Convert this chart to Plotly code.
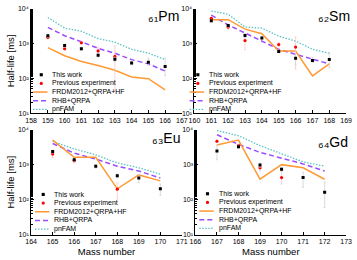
import plotly.graph_objects as go

# ---------------- data ----------------
# Pm (Z=61)
pm_mass = [159, 160, 161, 162, 163, 164, 165, 166]
pm_this = [1670, 870, 710, 460, 355, 275, 290, 220]
pm_this_lo = [1500, 780, 640, 410, 310, 245, 230, 120]
pm_this_hi = [1850, 960, 780, 510, 400, 305, 380, 380]
pm_prev_mass = [159, 160, 161, 162, 163]
pm_prev = [1500, 710, 1050, 610, 425]
pm_prev_lo = [1350, 640, 950, 500, 45]
pm_prev_hi = [1650, 780, 1150, 790, 850]
pm_frdm = [760, 445, 303, 233, 170, 110, 98, 47]
pm_rhb = [2880, 1670, 1120, 725, 525, 345, 260, 162]
pm_pnfam = [5570, 2760, 2240, 1380, 1090, 680, 530, 345]

# Sm (Z=62)
sm_mass = [161, 162, 163, 164, 165, 166, 167, 168]
sm_this = [4490, 3250, 1700, 1440, 590, 380, 325, 345]
sm_this_lo = [4100, 2950, 1500, 1300, 540, 245, 280, 205]
sm_this_hi = [4900, 3550, 1900, 1580, 640, 520, 400, 540]
sm_prev_mass = [161, 162, 163, 165, 166]
sm_prev = [5250, 2950, 1210, 935, 790]
sm_prev_lo = [4800, 2600, 660, 820, 185]
sm_prev_hi = [5700, 3300, 1700, 1050, 1540]
sm_frdm = [4800, 4800, 2580, 1900, 610, 610, 118, 260]
sm_rhb = [6470, 3390, 2000, 1170, 680, 490, 355, 260]
sm_pnfam = [8500, 6900, 2950, 2760, 1620, 1170, 680, 525]

# Eu (Z=63)
eu_mass = [165, 166, 167, 168, 169, 170]
eu_this = [2360, 1380, 905, 480, 415, 205]
eu_this_lo = [2150, 1250, 800, 420, 310, 133]
eu_this_hi = [2600, 1500, 1000, 540, 530, 280]
eu_prev_mass = [165, 166, 168]
eu_prev = [2000, 1300, 200]
eu_prev_lo = [1600, 1150, 105]
eu_prev_hi = [2400, 1450, 300]
eu_frdm = [4990, 1620, 1620, 205, 510, 345]
eu_rhb = [4000, 2130, 1440, 905, 660, 415]
eu_pnfam = [4640, 2800, 1910, 1120, 815, 535]

# Gd (Z=64)
gd_mass = [167, 168, 169, 170, 171, 172]
gd_this = [2450, 3240, 970, 735, 430, 165]
gd_this_lo = [1380, 2900, 850, 640, 228, 60]
gd_this_hi = [3620, 3600, 1100, 830, 590, 320]
gd_prev_mass = [167, 168, 169, 170]
gd_prev = [4640, 3470, 815, 430]
gd_prev_lo = [4200, 3100, 660, 280]
gd_prev_hi = [5100, 3850, 900, 660]
gd_frdm = [3620, 4990, 385, 1000, 815, 385]
gd_rhb = [7100, 3780, 2230, 1540, 1050, 660]
gd_pnfam = [9400, 6650, 3470, 1990, 1200, 905]

elements = ["Pm", "Sm", "Eu", "Gd"]
z_numbers = ["₆₁", "₆₂", "₆₃", "₆₄"]
x_ranges = [[158, 167], [160, 169], [164, 171], [166, 173]]
y_tick_vals = [10, 100, 1000, 10000]
y_tick_text = ["10¹", "10²", "10³", "10⁴"]
legend_names = ["This work", "Previous experiment", "FRDM2012+QRPA+HF", "RHB+QRPA", "pnFAM"]

panel_data = [
    (pm_mass, pm_this, pm_this_lo, pm_this_hi, pm_prev_mass, pm_prev, pm_prev_lo, pm_prev_hi, pm_frdm, pm_rhb, pm_pnfam),
    (sm_mass, sm_this, sm_this_lo, sm_this_hi, sm_prev_mass, sm_prev, sm_prev_lo, sm_prev_hi, sm_frdm, sm_rhb, sm_pnfam),
    (eu_mass, eu_this, eu_this_lo, eu_this_hi, eu_prev_mass, eu_prev, eu_prev_lo, eu_prev_hi, eu_frdm, eu_rhb, eu_pnfam),
    (gd_mass, gd_this, gd_this_lo, gd_this_hi, gd_prev_mass, gd_prev, gd_prev_lo, gd_prev_hi, gd_frdm, gd_rhb, gd_pnfam),
]

# ---------------- style / layout ----------------
W, H = 357, 260
FONT = "Liberation Sans, Arial, sans-serif"
C_FRDM = "#FF9933"
C_RHB = "#9B4DFF"
C_PNFAM = "#5CC3C3"
C_THIS = "#000000"
C_PREV = "#FF0000"
C_THIS_ERR = "#D2D2D2"
C_PREV_ERR = "#F9C8C8"
DASH_RHB = "5px,3px"
DASH_PNFAM = "1.5px,1.5px"

# plot-area pixel boxes: (left, right, top(10^4), bottom(10^1))
boxes = [(26, 182, 4.7, 112.3), (195, 352, 4.7, 112.3),
         (26, 182, 129, 237.3), (196, 352, 129, 237.3)]
# element-label anchor (right x, top y)
label_pos = [(181, 2), (358, 2), (182, 127), (356, 132)]
# legend origin: (line start x, first row y), row step
leg_origin = [(28, 72.7), (190, 72.7), (30, 195.7), (200, 195.0)]
leg_step = 8.9
leg_line_len = 15
leg_text_gap = 3

fig = go.Figure()
layout = dict(width=W, height=H, margin=dict(l=0, r=0, t=0, b=0),
              paper_bgcolor="white", plot_bgcolor="white",
              showlegend=False, font=dict(family=FONT, size=7, color="black"))
shapes, annotations = [], []


def px(x):
    return x / W


def py(y):
    return 1 - y / H


for i in range(4):
    (mass, this, this_lo, this_hi, pmass, prev, prev_lo, prev_hi,
     frdm, rhb, pnfam) = panel_data[i]
    sfx = "" if i == 0 else str(i + 1)
    xa, ya = "x" + sfx, "y" + sfx
    l, r, t, b = boxes[i]
    xaxis = dict(
        domain=[px(l), px(r)], anchor=ya, range=x_ranges[i], dtick=1,
        showgrid=False, zeroline=False, showline=True, linecolor="black", linewidth=1,
        ticks="inside", ticklen=3, tickcolor="black", tickfont=dict(size=7),
    )
    if i >= 2:
        xaxis["title"] = dict(text="Mass number", font=dict(size=9.5), standoff=4)
    layout["xaxis" + sfx] = xaxis
    yaxis = dict(
        domain=[py(b), py(t)], anchor=xa, type="log", range=[1, 4],
        tickvals=y_tick_vals, ticktext=y_tick_text,
        showgrid=False, zeroline=False, showline=True, linecolor="black", linewidth=1,
        ticks="inside", ticklen=3, tickcolor="black", tickfont=dict(size=7),
        minor=dict(ticks="inside", ticklen=1.5, tickcolor="black", showgrid=False),
    )
    if i in (0, 2):
        yaxis["title"] = dict(text="Half-life [ms]", font=dict(size=9.5), standoff=1)
    layout["yaxis" + sfx] = yaxis

    # theory lines
    fig.add_trace(go.Scatter(x=mass, y=pnfam, mode="lines", xaxis=xa, yaxis=ya,
                             line=dict(color=C_PNFAM, width=1.3, dash=DASH_PNFAM), name="pnFAM"))
    fig.add_trace(go.Scatter(x=mass, y=rhb, mode="lines", xaxis=xa, yaxis=ya,
                             line=dict(color=C_RHB, width=1.5, dash=DASH_RHB), name="RHB+QRPA"))
    fig.add_trace(go.Scatter(x=mass, y=frdm, mode="lines", xaxis=xa, yaxis=ya,
                             line=dict(color=C_FRDM, width=1.5), name="FRDM2012+QRPA+HF"))
    # previous experiment
    fig.add_trace(go.Scatter(
        x=pmass, y=prev, mode="markers", xaxis=xa, yaxis=ya, name="Previous experiment",
        marker=dict(symbol="circle", size=3.2, color=C_PREV),
        error_y=dict(type="data", symmetric=False,
                     array=[h - v for h, v in zip(prev_hi, prev)],
                     arrayminus=[v - lo for v, lo in zip(prev, prev_lo)],
                     color=C_PREV_ERR, thickness=0.8, width=1)))
    # this work
    fig.add_trace(go.Scatter(
        x=mass, y=this, mode="markers", xaxis=xa, yaxis=ya, name="This work",
        marker=dict(symbol="square", size=3, color=C_THIS),
        error_y=dict(type="data", symmetric=False,
                     array=[h - v for h, v in zip(this_hi, this)],
                     arrayminus=[v - lo for v, lo in zip(this, this_lo)],
                     color=C_THIS_ERR, thickness=0.8, width=1)))

    # element label
    lxp, lyp = label_pos[i]
    annotations.append(dict(
        xref="paper", yref="paper", x=px(lxp), y=py(lyp),
        xanchor="right", yanchor="top", showarrow=False,
        text=z_numbers[i] + elements[i],
        font=dict(size=14, color="black")))

    # manual legend
    lx, ly = leg_origin[i]
    for k, nm in enumerate(legend_names):
        yy = ly + k * leg_step
        cx = lx + leg_line_len / 2 + 1
        if k == 0:
            shapes.append(dict(type="rect", xref="paper", yref="paper",
                               x0=px(cx - 1.6), x1=px(cx + 1.6), y0=py(yy - 1.6), y1=py(yy + 1.6),
                               fillcolor=C_THIS, line=dict(width=0)))
        elif k == 1:
            shapes.append(dict(type="circle", xref="paper", yref="paper",
                               x0=px(cx - 1.7), x1=px(cx + 1.7), y0=py(yy - 1.7), y1=py(yy + 1.7),
                               fillcolor=C_PREV, line=dict(width=0)))
        else:
            col, dash, wd = [(C_FRDM, "solid", 1.5), (C_RHB, DASH_RHB, 1.5), (C_PNFAM, DASH_PNFAM, 1.3)][k - 2]
            shapes.append(dict(type="line", xref="paper", yref="paper",
                               x0=px(lx), x1=px(lx + leg_line_len), y0=py(yy), y1=py(yy),
                               line=dict(color=col, width=wd, dash=dash)))
        annotations.append(dict(xref="paper", yref="paper", x=px(lx + leg_line_len + leg_text_gap),
                                y=py(yy), xanchor="left", yanchor="middle", showarrow=False,
                                text=nm, font=dict(size=7, color="black")))

layout["shapes"] = shapes
layout["annotations"] = annotations
fig.update_layout(**layout)

fig.write_html("out.html", config={"displayModeBar": False},
               post_script="document.body.style.margin='0';document.body.style.overflow='hidden';")
